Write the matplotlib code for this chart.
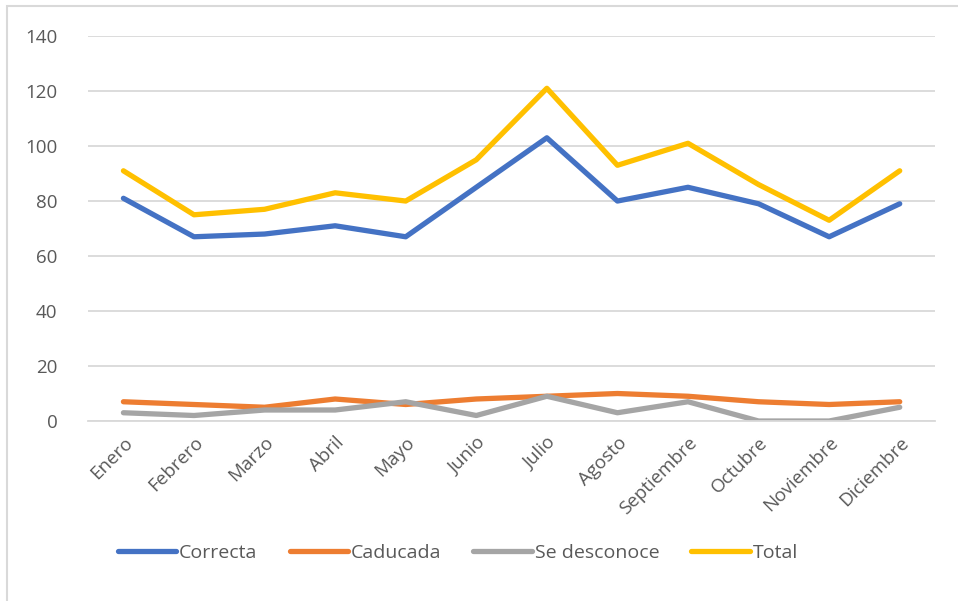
import matplotlib.pyplot as plt
from matplotlib.patches import Rectangle

plt.rcParams['font.family'] = ['Open Sans', 'DejaVu Sans']

months = ['Enero', 'Febrero', 'Marzo', 'Abril', 'Mayo', 'Junio', 'Julio',
          'Agosto', 'Septiembre', 'Octubre', 'Noviembre', 'Diciembre']
correcta = [81, 67, 68, 71, 67, 85, 103, 80, 85, 79, 67, 79]
caducada = [7, 6, 5, 8, 6, 8, 9, 10, 9, 7, 6, 7]
desconoce = [3, 2, 4, 4, 7, 2, 9, 3, 7, 0, 0, 5]
total = [91, 75, 77, 83, 80, 95, 121, 93, 101, 86, 73, 91]

series = [
    ('Correcta', correcta, '#4472C4'),
    ('Caducada', caducada, '#ED7D31'),
    ('Se desconoce', desconoce, '#A5A5A5'),
    ('Total', total, '#FFC000'),
]

fig = plt.figure(figsize=(9.58, 6.01), dpi=100)
ax = fig.add_axes([0.092, 0.2995, 0.884, 0.6405])

x = range(len(months))
for name, vals, col in series:
    ax.plot(x, vals, color=col, linewidth=3.8, label=name, solid_capstyle='round')

ax.set_xlim(-0.5, len(months) - 0.5)
ax.set_ylim(0, 140)
ax.set_yticks(range(0, 141, 20))
ax.set_xticks(list(x))
ax.set_xticklabels(months, rotation=45, ha='right', rotation_mode='anchor')
ax.tick_params(axis='both', length=0, colors='#595959', labelsize=13.5)
ax.tick_params(axis='y', pad=22)
ax.tick_params(axis='x', pad=9)
ax.grid(axis='y', color='#D9D9D9', linewidth=1.3)
ax.set_axisbelow(True)
for s in ['top', 'right', 'left']:
    ax.spines[s].set_visible(False)
ax.spines['bottom'].set_color('#D9D9D9')
ax.spines['bottom'].set_linewidth(1.3)

fig.legend(loc='center', bbox_to_anchor=(0.478, 0.08), ncol=4, frameon=False,
           fontsize=14, labelcolor='#595959', handlelength=3.0,
           handletextpad=0.15, columnspacing=1.65)

# chart border (left and top visible in the crop)
fig.patches.append(Rectangle((7 / 958, -0.1), 1.1, 1.1 - 6 / 601,
                             transform=fig.transFigure, fill=False,
                             edgecolor='#D9D9D9', linewidth=1.5))

fig.savefig('out.png', dpi=100)
